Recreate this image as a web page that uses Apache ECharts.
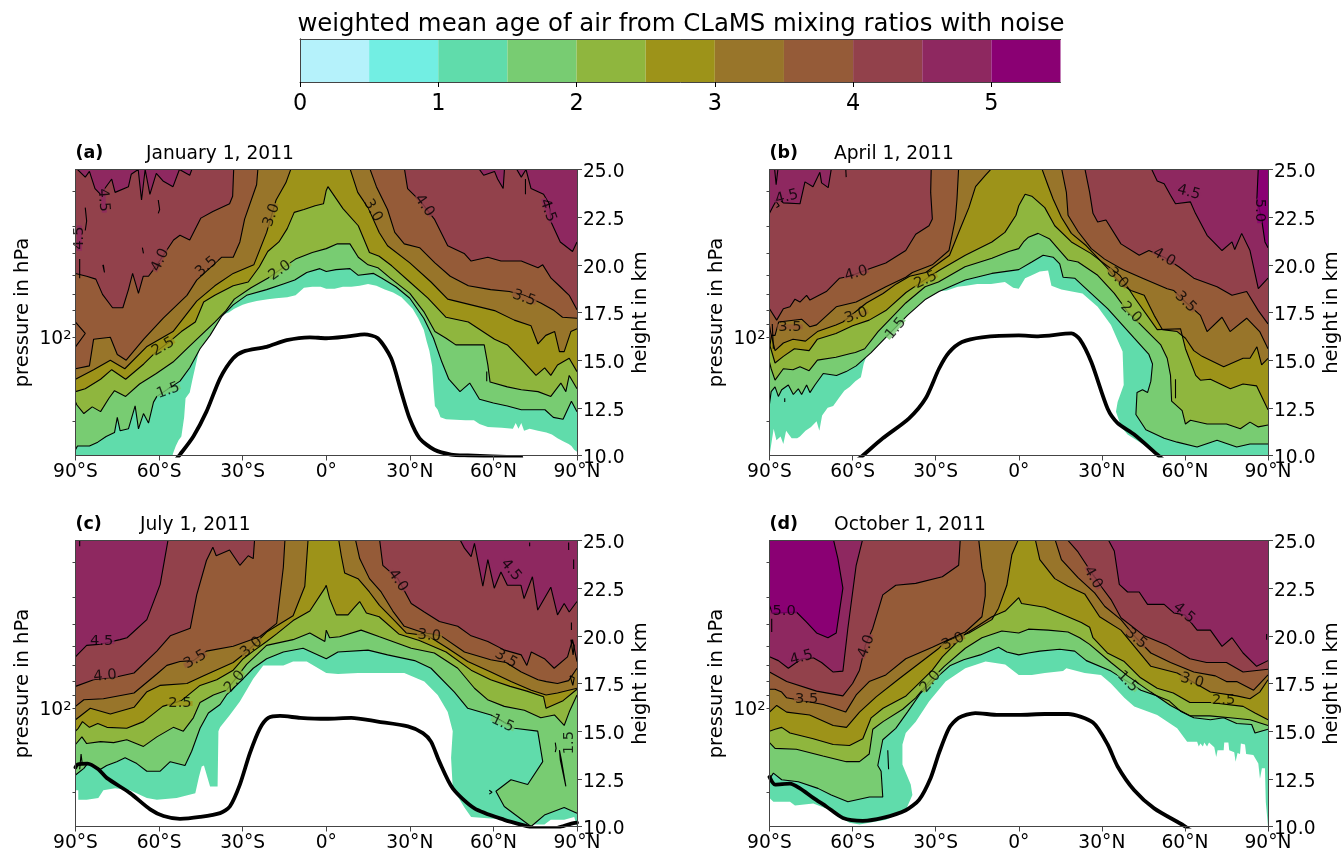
<!DOCTYPE html>
<html><head><meta charset="utf-8">
<script src="https://cdn.jsdelivr.net/npm/echarts@6/dist/echarts.min.js"></script>
<style>html,body{margin:0;padding:0;background:#fff}#c{width:1343px;height:858px}</style>
</head><body><div id="c"></div>
<script>
// colour bands (0-0.5 ... 5-5.5)
const bandColors=['#b5f2fb','#72eee3','#60dcab','#78cc72','#8fb63e','#9d9319','#98752a','#955b38','#92414b','#8e2860','#8a0073'];
const barTicks=[0,1,2,3,4,5];
const latTicks=[-90,-60,-30,0,30,60,90];
const pressureTicks=[30,40,50,60,70,80,90,100,200];
const mainTitle='weighted mean age of air from CLaMS mixing ratios with noise';
const panelTags=['(a)','(b)','(c)','(d)'];
const panelDates=['January 1, 2011','April 1, 2011','July 1, 2011','October 1, 2011'];
const levels=[1.5,2,2.5,3,3.5,4,4.5,5];

// Panel a: contours as flat lat,height pairs
const a10=[-90,9.5,-56,9.5,-55,10.1,-54,10.5,-53,10.8,-52,11,-51,12,-50.5,13,-49,13.3,-48,14,-46,15.3,-45,15.8,-43,16.3,-41,16.7,-39,17,-37,17.4,-35,17.5,-33,17.7,-30,17.9,-28,18,-25,18.1,-21,18.2,-18,18.25,-14,18.3,-11,18.4,-8,18.8,-5,18.85,-2,18.85,0,18.75,3,18.75,6,18.85,9,18.85,12,18.9,15,19,18,18.9,21,18.7,24,18.55,27,18.3,29,18,31,17.7,33,17.2,35,16.6,36,16,37,15.5,38,14.7,38.5,13.5,39,12.6,40,12.4,41,12,43,11.9,50,11.85,53,11.85,55,11.65,58,11.5,63,11.45,67,11.4,68,11.7,69,11.4,70,11.7,71,11.3,73,11.4,76,11.3,79,11.2,81,11.1,83,10.9,85,10.75,87,10.6,88,10.5,89,10.3,90,10.2];
const a15=[-90,10.3,-89.3,10.5,-85,10.5,-82,10.7,-79,11,-76,11.2,-75,12,-74,11.3,-71,11.4,-68.6,12.6,-67.4,11.4,-65.6,12.2,-63.8,11.7,-62,12.8,-60.8,13.1,-52.5,13.9,-49,14.6,-45.3,15.6,-41.7,16.3,-37.5,17.3,-33.4,17.9,-28.6,18.4,-21.4,18.7,-15.4,19,-11.3,19.2,-7,19.6,-2.3,19.8,0,19.65,3.5,19.75,8.5,19.8,11.5,19.45,17,19.55,20,19.3,25,18.85,30,18.25,35,17.2,38.5,16.15,41.5,14.9,44,14,48,13.35,51.5,13.8,55,12.95,60,12.75,65,12.6,70,12.4,75,12.4,78.5,12.4,81.5,12,85,11.9,88,12.85,90,12.3];
const a20=[-90,12.8,-89.5,12.65,-87,12.2,-84,12.55,-81,12.3,-78,13,-76,13.4,-72,13.1,-67,13.75,-61,14.3,-55,14.9,-50,15.6,-45,16.3,-40,17,-36,17.6,-33,18.2,-27,18.8,-21,19.3,-16,19.8,-11,20.3,-5,20.65,0,20.85,4,21.1,8.5,21.1,11.5,20.4,15,20,18.5,19.85,23,19.3,30,18.5,35,17.55,39,16.5,43,16.15,46.5,15.8,55.5,15.8,56.7,15.8,58,14.75,58.8,13.85,65,13.6,70,13.45,76,13.35,80.6,13.1,84.2,13.8,86,13.35,87.2,14.2,90,13.5];
const a25=[-90,13.35,-86.5,13.5,-81,14,-77,14.5,-72,14,-65.5,14.8,-61,15.45,-56,16,-52,16.5,-47,17,-44,18.05,-40,18.4,-33.4,18.9,-28,19.1,-24,19.9,-21,20.7,-17,21.2,-14,21.9,-11.5,22.75,-8,22.9,-4,23.1,-1,23.2,0,23.9,0.6,24.1,6,22.95,11.5,22.05,14.5,21,15.5,20.65,19,20.45,23.5,19.95,30,19.1,36.5,18.25,43,17.25,51,17,60.4,16.1,65,15.8,71,14.9,75.3,14.2,78.4,14.6,80.6,14.2,83,14.75,87.2,15.1,90,14.4];
const a30=[-90,14,-83.5,14.5,-77.5,15,-72.3,14.55,-64.5,15.7,-55,16.5,-46.5,18.1,-40,18.9,-33.4,19.55,-26,20,-21.4,21.7,-18,23.4,-14.5,24.3,-12.5,25.1,8.4,25.1,11.3,23.8,15,23,19,21.7,22,21,30,20.1,37.6,19.1,43.6,18.2,52,17.9,60.4,17.6,67.5,17.1,73.5,16.8,76,15.85,78.8,16.3,82,16.5,83.7,15.45,85.4,15.45,87.8,16.5,90,16.65];
const a35=[-90,14.55,-85,14.7,-83.5,16.1,-77.5,16.2,-75,15.3,-71.8,15,-65.5,16.1,-58.5,17.2,-50,18.4,-46.5,19.2,-37.5,20.4,-33.4,20.4,-31,21.2,-29.3,22.4,-25,24.2,-24.5,25.1,15.5,25.1,18,24.1,22,22.9,24.6,21.7,28,21.1,33.5,20.9,39,20.1,44.5,19.4,51,18.9,59,18.7,65.7,18.6,71,18.4,77,18,81.8,17.6,84.8,17.25,90,17.2];
const a40=[-90,19.55,-86,19.4,-82.7,19.25,-80.3,18.45,-76.7,17.75,-73,17.75,-71,18.7,-69.5,19.55,-67.4,18.5,-65.7,19.4,-63.8,19.4,-62,19.75,-59.6,20.25,-54.8,21.3,-52.5,21.55,-49,21.3,-45,22.45,-40.7,22.8,-34.7,23.2,-33.6,23.6,-33.2,25.1,28,25.1,29.2,24,34,23.3,38.8,22.4,43.6,21,49.5,20.6,52,20.2,58,20.4,62.7,20.2,70,20.2,76,19.85,77.7,20,80.7,19.3,84,18.85,87.2,18.4,90,17.65];
const a45=[-90,25.1,-89.3,25.05,-86.5,24.6,-85,24.9,-83,24,-81,23.7,-77,24.5,-75.8,23.8,-71,24.1,-70,24.75,-67.5,25,-66.3,23.4,-65,25,-63.3,23.7,-61,24.8,-58.6,24.4,-55,24.1,-52.7,25,-49,24.7,-48,25.1,54.5,25.1,56.5,24.7,60.4,24.9,61.5,24.5,63.5,24,64,25.1,68,25.1,70,24.6,71.7,25,72.3,25.1,73.5,24,78,23.7,80,23.2,80.7,22.25,84,21.2,88.4,20.7,90,21.2];
const a50=[];
const aTrop=[-55,9.6,-52.5,10.05,-47.7,11,-43,12.3,-38.1,14.05,-33.4,15.1,-29.8,15.45,-21.4,15.7,-14.2,16.05,-5.9,16.2,0,16.15,7.8,16.25,13.7,16.35,18.5,16.15,23.3,15.1,26.9,13.35,29.9,11.95,33.5,10.9,38.8,10.3,44.8,10.05,50.8,10,70,9.9];
const aLabels=[[-80,23.4,'4.5',-85],[-88.6,21.4,'4.5',90],[-59.6,20.25,'4.0',65],[-43,19.9,'3.5',40],[-19.6,22.6,'3.0',70],[-58.5,15.7,'2.5',30],[-16.6,19.7,'2.0',35],[-56.7,13.4,'1.5',20],[16.7,22.85,'3.0',-60],[35.2,23.1,'4.0',-55],[79.5,22.85,'4.5',-70],[71,18.25,'3.5',-20]];
const aExtras=[[-86.5,23,-86,22.3,-86.5,21.8],[-88.5,20.3,-88.5,19.3],[-80,20,-79.6,19.6,-80.2,20],[-90,17,-86.5,16.4,-90,15.7],[-60.3,23.4,-59.8,22.9,-60.3,22.7],[71.5,24.5,71.5,23.7],[57.6,14.4,57.6,13.9],[-66,20.9,-65.6,20.6]];

// Panel b
const b10=[-90,10,-88.5,11.4,-87.5,10.8,-86,11,-85,10.6,-84,11.3,-82,10.9,-80,10.9,-79,11,-77,11.3,-75,11.5,-73,11.8,-72,11.3,-71,12.1,-69,12.5,-67,12.6,-65,13,-63,13.4,-61,13.6,-59,13.9,-57,14.1,-56,14.8,-55,15.2,-53,15.7,-51,16,-49,16.4,-47,16.6,-45,17.2,-43,17.6,-41,17.9,-37,18.1,-34,18.3,-30,18.6,-26,18.65,-22,18.85,-19,18.9,-15,19,-10,19,-5,19.1,-2,18.8,0,18.75,2.3,19.3,4.7,19.45,7.6,19.65,10.6,19.7,11.8,18.9,15.4,18.7,23,18.5,28.5,17.8,33.3,16.85,37.5,15.45,37.9,13.7,35.7,12.8,35.1,12.3,37,11.5,39.3,11.1,45.3,10.55,50,10,50,9.5,90,9.5];
const b15=[-90,12.7,-89.4,13.35,-88,13.6,-86.8,13.1,-85.6,13.45,-83.2,13.7,-81.4,13.2,-79.6,13.5,-78.4,13.2,-76.6,13.7,-75.4,13.3,-73.6,13.7,-70.6,14.3,-65.8,14.2,-62.3,14.4,-58.7,14.7,-53.3,15.4,-48.6,16.1,-40.2,17.35,-33.6,18.2,-28.8,18.6,-19.3,19.2,-9.7,19.55,0,19.75,4.7,20.15,8.8,20.5,12.4,20.4,14.8,20.05,16,19.35,20.2,19.3,23.2,18.9,32.1,17.7,41.7,16.15,47,15.3,48.3,14.8,47.7,13.9,46.5,13.3,44.7,13.45,42.7,13.3,42.3,12.15,45.9,11.35,52.5,10.9,57.2,10.7,64.4,10.45,71.6,10.8,78.7,10.45,83.5,10.6,90,10.6];
const b20=[-90,14.9,-89.4,14.55,-88,13.95,-85,14.55,-81.5,14.5,-79,14.65,-75.7,14.45,-72.7,15,-66,15.15,-60.7,15.35,-59,15.4,-55.6,15.6,-50.8,16.5,-44.8,17.4,-40.8,18,-33.8,18.85,-29,19.1,-19.4,19.9,-9.7,20.35,-3.6,20.7,0,20.85,1.7,21.2,3.5,21.45,7,21.65,11.2,21.35,14.8,20.75,17.8,20.25,21.4,20.15,28.5,19.45,34.5,18.5,39.3,17.55,46.5,16.5,51.3,15.8,53.6,15.1,54.8,14.2,55.2,12.85,59,12.35,60.2,11.65,62,11.85,68,11.65,75,11.65,80,11.4,83.5,11.75,86.5,11.5,90,11.6];
const b25=[-90,15.8,-89.5,15.6,-88,14.85,-85,15.2,-81,15.6,-75.7,15.5,-72.7,16.1,-66,16.4,-60,16.8,-54,17.1,-48,17.6,-40.7,18.55,-33.6,19.25,-28.8,19.7,-19.3,20.5,-9.7,21.2,-5,21.7,-1,22.6,0,23.1,2.3,23.7,4.7,23.6,9.4,23,13,22.05,19,21.2,26,20.6,36.5,19.45,41.7,18.3,50,16.6,58.4,16.65,60.2,15.6,63.9,14.2,65.6,13.95,69.2,14,76.4,13.5,81,13.75,85.9,13.65,90,12.4];
const b30=[-90,16.8,-89.5,16.4,-88,15.5,-85,15.9,-81.5,16.1,-77,16,-72.7,16.5,-66,16.85,-63.5,17,-55,18,-49,18.5,-44.2,19,-39.4,19.4,-33.6,19.6,-25,20.5,-21.4,21.8,-18,23,-15.6,24.1,-12,24.7,-9.5,25.1,8.2,25.1,10.6,24.15,12.4,23.45,15.4,22.5,19,21.65,24.4,21,31.5,19.9,36.9,19,40.5,18.65,45.3,18.4,48.9,17.35,51.9,16.6,57.2,16.5,60.2,16.15,63.2,15.5,66.2,15.2,74,14.65,81,15.1,83.5,15.1,86,15.7,87.7,14.75,90,15.1];
const b35=[-90,15.6,-89.3,16.3,-88,16.3,-86.7,17,-78.4,17.15,-75.4,16.75,-73,16.85,-65.9,17.8,-58.7,18.05,-53.9,18.4,-48,18.85,-40.8,19.35,-38.4,19.6,-31.2,20,-25.2,20.75,-22.9,22.4,-22.3,23.45,-21.7,25.1,15.4,25.1,17.2,23.8,17.8,22.6,21.4,21.75,26.2,20.85,31,20.3,37.5,19.75,44.7,19.3,53.6,18.75,56,18.65,60.2,18.05,65.6,17.35,68,16.5,73.4,17.25,76.3,16.5,82.3,17.2,87,16.5,90,15.6];
const b40=[-90,17.7,-87.4,17.1,-85,17.7,-82.6,17.8,-80.8,18.2,-79,18.05,-76.6,18.4,-75.4,18.15,-69.5,18.6,-64.7,19.3,-61,19.4,-53.9,19.8,-48,20.1,-40.8,20.75,-37.2,21.6,-32.4,22.05,-31.2,22.4,-31.8,23.8,-31.6,25.1,23.8,25.1,25.6,23.8,26.8,22.7,28.5,22.25,31.5,22.35,36.9,21.1,43.5,20.5,47,20.75,52.5,20.4,57.8,19.9,63.2,19.3,71.6,18.85,77,18.4,82.3,18.6,86.5,17.6,90,16.9];
const b45=[-90,22.7,-88.6,23.1,-87,23.5,-85,23.25,-79,23.2,-77.2,24.35,-74.3,24.1,-71.8,24.85,-71.2,24.3,-68.8,24.05,-67.6,25.1,47.7,25.1,50,24.4,52.5,24.25,54.8,23.65,56.6,23.2,62,23.3,63.8,22.7,68,21.55,73.4,20.75,77,21.2,78,20.8,80.5,21.65,83.5,20.75,86.5,18.75,90,19.3];
const b50=[86.5,25.1,86,23.5,87.7,22.4,88.9,21.2,90,20.9];
const bTrop=[-58,9.8,-56.3,10,-49.1,10.9,-39.6,11.95,-33.6,13,-28.8,14.55,-25.2,15.4,-20.5,15.95,-13.3,16.2,0,16.3,7,16.25,19,16.4,22,16.1,26.2,14.9,32.1,12.45,35.7,11.7,41.7,11.1,50,10.05,52,9.8];
const bLabels=[[-83.8,23.55,'4.5',15],[-82.6,16.75,'3.5',0],[-58.7,19.55,'4.0',15],[-58.7,17.35,'3.0',20],[-33.6,19.2,'2.5',25],[-44.4,16.65,'1.5',50],[61.4,23.8,'4.5',-15],[87,22.85,'5.0',-90],[52.5,20.4,'4.0',-30],[60.2,18.05,'3.5',-45],[35.7,19.3,'3.0',-45],[40.5,17.5,'2.0',-45]];
const bExtras=[[-88.2,25.1,-87.6,24.2,-86.9,25.1],[-89,16.9,-88.6,15.6],[-62.5,25.1,-62.3,24.6],[56.6,14,56.6,13],[-84.5,13,-84.5,12.8],[-88,23.4,-86.5,23.1,-87.5,23]];

// Panel c
const c10=[-90,11.9,-89,11.9,-89,11.4,-86,11.4,-81.8,11.5,-80,11.9,-75.8,12,-70.4,11.9,-64.4,11.5,-60.8,11.4,-53.7,11.5,-47,11.75,-45.7,12.6,-44.7,13.15,-43.9,13.2,-43.2,13.15,-41.7,12.1,-39,12.1,-38.7,15,-38.1,15.2,-34.6,15.85,-31,16.55,-26.2,17.75,-22.6,18.45,-15.4,18.45,-11.9,18.65,-7,18.65,0,18.05,4.2,18,11.4,18.05,19.7,18.05,28,18.05,35.2,17.6,40,16.9,43.6,16,45.4,15,44.8,13.6,45.4,12,49.6,11,52,10.5,65,10.35,71,10,73.5,10.1,78.3,10.1,80.6,10.35,85.4,10.35,89,10.5,90,10];
const c15=[-90,12.7,-89.3,12.6,-87,13.05,-85.7,13.3,-81,13,-78.8,13.2,-75.2,13.4,-72.2,13.6,-68,13.3,-64.4,12.9,-59.6,12.9,-56,13.4,-50.7,13.2,-48.3,13.95,-45.3,15.15,-42.3,15.95,-38.1,16.4,-35.8,16.9,-29.8,17.75,-26.2,18.3,-21.4,18.8,-15.4,19.15,-8.3,19.35,0,18.8,4.2,19.15,15,19.25,22,19,31.7,18.7,37.6,18.3,46,17.05,50.8,16.2,59.1,15.85,67.5,15.15,75.9,15,77.7,13.4,72.3,12.2,66.3,12.45,60.9,11.85,63.9,11.05,73.5,10,78.3,10.6,85.4,11,90,10.7];
const c20=[-90,14.3,-87.7,14.7,-86,14.35,-81,14.45,-76.3,14.4,-71.6,14.55,-65.6,14.2,-60.8,14.7,-54.9,15.2,-51.3,15,-47.7,15.7,-45.3,16.5,-40.5,16.9,-35.8,17.15,-32.8,17.7,-28.6,18.5,-21.4,19.5,-11.9,19.8,-5.9,20.15,-0.5,19.7,0,20.3,1.2,19.9,4.8,19.95,12.5,20.3,19.1,19.95,30.5,19.35,38.8,19.1,47.2,18.3,53.2,17.25,57.9,16.65,63.9,16.3,71.1,16.1,77,15.7,81.9,15.85,85.4,15.3,87.2,16,90,16.9];
const c25=[-90,15,-89,15.15,-87.5,15.5,-85,15.2,-82,15.4,-78.7,15.2,-71.6,15.15,-65.6,15.5,-58.7,16.3,-52,16.6,-45.3,17.4,-39.3,17.7,-33.4,18.2,-29.8,18.8,-26.2,19.2,-21.4,19.7,-17.8,20.1,-11.9,20.8,-5.9,21.3,-0.5,22.5,0,22.65,1.2,21.95,3.6,21.1,7.8,21.1,10.2,21.5,12,21.8,14.4,21.2,19,21,26,20.1,33.4,19.75,43,19.15,52,18.2,59,17.7,66,17.35,72,17.1,78,16.8,78.9,16.2,85,16.6,90,17.2];
const c30=[-90,15.6,-84.7,16.2,-77.5,15.9,-69,16.25,-64.5,17.05,-59.7,17.4,-50,17.5,-44,17.9,-33.4,18.6,-28.6,19.15,-21.4,20.2,-11.9,21.05,-7.7,22.6,-6.5,25.1,4.4,25.1,5.4,24.2,6.6,23.3,11.4,23,15.5,22.3,19.1,21.6,24.5,20.8,28.7,20.15,36.5,20,43.6,19.35,50.8,18.65,59.1,18.1,66.3,17.6,73.6,17.15,78.9,16.9,83,17,90,17.25];
const c35=[-90,16.3,-87,16.65,-80,16.7,-69,17,-60.8,18,-57.2,18.45,-52.5,18.65,-47.7,18.7,-43,19.2,-33.4,19.45,-23.9,19.95,-17.8,20.65,-15.4,23.6,-14.8,25.1,10.4,25.1,12,24.05,15.5,23,19.7,22.3,23.9,21.3,28,20.5,35.2,20.15,41.2,20,49.6,19.15,59,18.75,64.5,18.6,70,18.1,76,17.7,79,17.6,83,17.5,87,17.65,90,18.3];
const c40=[-90,17.35,-83.5,17.7,-75,17.85,-69,18.05,-60.8,19.2,-56,20,-48.8,20.4,-46.5,22.15,-43,23.95,-40.7,24.65,-39.5,24.2,-34.7,24.5,-31,23.7,-28,24.2,-26.2,24.05,-25.7,25.1,19.1,25.1,20.3,23.7,25.7,23,30.5,21.7,35.2,21.25,40.6,20.75,47.2,20.5,52,20,58,19.7,64,19.25,70,19,72,18.45,73.6,19.15,78.3,18.8,81.8,18.3,86.6,18.9,88.4,19.8,90,18.65];
const c45=[-90,18.9,-89,19.05,-86,19.5,-81.7,19.55,-74,19.8,-71.5,19.9,-64.4,20.85,-59.6,22.7,-56.7,25.1,47.8,25.1,49.6,24.6,52,24.15,53.2,24.85,56.2,22.6,58,24,60.3,22.5,62.7,23.35,65,22.65,69.9,22.65,71,21.95,74,23.1,75.9,21.35,80.6,22.55,83,21.1,85.4,21.7,87.2,21.25,90,21.8];
const c50=[];
const cTrop=[-90,13.1,-89.3,13.25,-85.7,13.3,-81.8,13,-78.8,12.55,-70.4,11.75,-63.2,10.9,-58.4,10.55,-52.5,10.4,-45.3,10.5,-38.1,10.7,-34.6,11.05,-31,12.2,-27.4,13.85,-23.8,15.15,-20.8,15.7,-16.6,15.8,-9.4,15.7,0,15.65,9,15.7,18.5,15.5,29.3,15.25,34.7,14.9,37.6,14.45,40.6,13.4,45.4,12,53.2,10.95,63.9,10.35,72.3,10,75,9.9,82,9.9,84.5,10,88,10.15,90,10.2];
const cLabels=[[-80.6,19.7,'4.5',0],[-79.4,17.9,'4.0',5],[-47,18.75,'3.5',30],[-26.8,19.4,'3.0',40],[-52.5,16.45,'2.5',0],[-32.8,17.6,'2.0',50],[25.7,22.9,'4.0',-55],[66.3,23.45,'4.5',-50],[37,20,'3.0',-5],[64.5,18.8,'3.5',-30],[63.3,15.4,'1.5',-25],[87.2,14.4,'1.5',90]];
const cExtras=[[83.7,14,84.4,13.5,86,12.1,85.5,12.1,84,13.5,83.7,14],[58.5,11.9,59.5,11.8,58.5,11.7],[82.2,14.4,82.5,14.1,82.2,13.9],[87.8,19.8,88.6,19,89,19.5,87.8,19.8],[87.5,17.9,88.5,17.4,89,17.8,87.5,17.9],[88,20.7,88,20.3],[73,24.9,73,24.7],[87,24.9,87,24.5],[88.8,24,88.8,23.5],[-88.5,25,-88.5,24.7],[-88.5,13,-88,13.8,-87.6,13.3]];

// Panel d
const d10=[-90,11.5,-88.6,11.3,-82.6,11.3,-80.8,11.1,-74.2,11.2,-69.5,10.95,-64.7,10.5,-61.1,10.2,-57.5,10.1,-47.9,10.35,-40.8,10.85,-38.4,11.65,-39,12.2,-42,13.25,-42,14.3,-40.8,14.9,-37.2,15.5,-32.4,16.55,-26.4,17.6,-19.3,18.3,-12,18.65,-4.9,18.5,0,17.95,4.7,17.95,9.4,18.05,16,18.15,17.2,18.3,23.8,18.05,29.7,17.95,33.3,17.5,38.1,16.75,41.7,16.3,50,15.85,57.2,15.15,60.8,14.45,64.4,14.45,65,14.2,65.6,14.35,66.5,14.2,67,14.4,68,14.2,68.7,14.4,70.6,14.15,71.3,13.65,71.8,14,74,14,74.2,14.4,75.7,14.4,76,14,77.8,13.9,78.3,13.4,79,13.85,79.9,13.8,80.2,14.35,81.7,14.3,82.1,13.8,84.7,13.75,86.5,13.3,87.1,12.5,87.8,13.05,88.9,13.05,89.2,11.3,89.7,11.3,90,10];
const d15=[-90,12.5,-88.6,12.8,-85.6,12.45,-79.6,12.35,-72.5,12,-67.7,11.65,-61.7,11.3,-53.9,11.55,-49.1,11.55,-49.7,12.9,-50.9,13.2,-49.1,14.55,-44.4,15.15,-40.2,16,-35.4,17,-29.4,17.85,-24.7,18.45,-19.9,18.75,-13.9,19,-7.3,19.4,-4.3,19.15,0,19,3.5,19.1,7.6,19.2,14.8,19.3,20.2,19.2,24.4,18.7,33.3,18.15,39.3,17.6,44.1,17.15,50,16.85,54.2,16.6,58.4,16.05,63.2,15.7,69.2,15.6,74,15.7,78.7,15.4,84.1,15.35,85.3,14.9,90,15.1];
const d20=[-90,14.4,-88,14.1,-80.3,14.05,-70.7,13.7,-62.3,13.4,-57.5,13.4,-54,13.8,-52.7,15.1,-49,15.5,-41.9,16.15,-37.2,16.75,-32.3,17.6,-26.9,18.4,-19.3,19.35,-13.3,19.9,-6.1,20.25,0,20.15,3.5,20.35,10.6,20.3,17.8,20.2,22,19.9,25.6,19.55,33.3,18.6,39.3,17.9,47.7,17.05,54.8,16.35,62,15.8,69,15.8,76.3,15.7,83.5,15.6,90,15.3];
const d25=[-90,15,-88,15.1,-85.6,15.2,-82.6,14.9,-74.2,14.6,-67,14.3,-61.1,14.25,-56.3,14.6,-53.3,15.7,-49,16.2,-40.7,16.85,-31.2,18.2,-27.6,18.9,-19.3,20.1,-9.7,21,-4.9,21.3,0,22,1,21.7,9.4,21.5,15.4,21.15,22.6,20.7,25.6,20.45,26.8,19.9,32,19.1,38.1,18.65,44,17.8,50,17.25,55.8,17,61.8,16.5,69.2,16.5,81,16.3,85.3,15.95,90,15.6];
const d30=[-90,16,-87.4,16.35,-83.8,16,-75.5,15.85,-67,15.3,-62.2,15.2,-57.5,16,-51.5,16.8,-43.2,17.75,-36,18.55,-28.8,19.35,-26.4,19.7,-18,20.15,-9.7,20.85,-7.3,21.45,-4.3,22.65,-2.5,24.25,0,25.1,5.9,25.1,7.6,24,13,23,17.8,22.6,23.8,22.2,29.2,21,36.9,20.3,47.7,18.4,57.2,18.05,69.2,17.05,78.7,16.85,83.5,16.7,87,17.05,90,17.7];
const d35=[-90,17.2,-88,17.2,-85.6,17.05,-83.8,16.75,-70.6,16.4,-62.5,16,-58.7,16.9,-54,17.6,-48,17.95,-40.8,18.8,-31.2,19.4,-21.7,20.05,-19.3,20.2,-13.3,21,-12.1,22.1,-12.1,22.75,-13.3,23.55,-14.5,25.1,13,25.1,15.4,24,21.4,23.05,27.4,22.25,31,21.55,36.9,20.85,42.3,19.9,47.7,19.1,54.8,18.6,63.2,18.1,71,17.9,75,17.6,78.7,17.6,84.8,17.15,90,17.95];
const d40=[-90,18.1,-83.8,17.6,-73,17.1,-63.5,16.85,-60,17.5,-57.5,18.2,-55.4,19.5,-52.7,20.4,-49.1,22.15,-44.4,22.65,-37.2,22.75,-27.6,23.1,-21.7,23.7,-21.1,25.1,17.2,25.1,21.4,24.4,26.8,23.2,29.7,22.6,33.3,21.9,36.9,20.95,45.3,20,53.6,19.5,61.8,18.8,67.8,18.6,75,18.6,81,18.1,90,18.25];
const d45=[-90,18.9,-86.8,18.7,-83.2,18.3,-78.4,18.8,-74.2,18.85,-71.2,18.6,-67,18.1,-63.5,18.15,-61.7,20.4,-58.7,23.7,-56.3,25.1,32.1,25.1,34.5,24.45,36.3,22.7,39.3,22.3,43.5,22.3,46.5,21.65,52.5,21.65,56,21.2,60,21.1,64.4,20.3,69.2,20.3,73.4,19.45,77,19.9,81,19.1,85.9,18.4,90,18.7];
const d50=[-90,21.6,-89,21.2,-80.3,21.25,-76.8,20.75,-73,20.15,-68.9,19.9,-65.9,20.15,-63.5,22.5,-65.3,24.05,-67,25.1,-66,25.6,90,25.6];
const dTrop=[-90,12.6,-88,12.2,-82.6,12.25,-79,12,-74.2,11.5,-69.5,11.05,-63.5,10.45,-56.3,10.3,-49.1,10.45,-40.8,10.85,-36,11.4,-31.8,12.55,-28.8,13.85,-25.2,15.15,-21.7,15.7,-15.7,15.95,-7.3,15.85,0,15.85,9.4,15.9,17.8,15.9,26.8,15.45,32.1,14.3,35.7,13.15,41.7,11.9,48.9,10.95,59.6,10.05,62,9.8];
const dLabels=[[-84.7,21.3,'5.0',0],[-78.4,18.85,'4.5',15],[-76.6,16.7,'3.5',0],[-55,19.45,'4.0',70],[-23.7,19.7,'3.0',25],[-31.8,17.6,'2.0',50],[26.8,23.05,'4.0',-60],[59.6,21.2,'4.5',-40],[42.3,19.85,'3.5',-40],[62.6,17.65,'3.0',-15],[74,16.6,'2.5',0],[39.3,17.6,'1.5',-45]];
const dExtras=[[-47.3,14,-47,13,-47.6,13,-47.3,14],[-89.2,20.9,-89.2,20.2],[89.5,20.1,89.5,19.8]];

const panels=[
 {edge:a10,lines:[a15,a20,a25,a30,a35,a40,a45,a50],trop:aTrop,labels:aLabels,extras:aExtras},
 {edge:b10,lines:[b15,b20,b25,b30,b35,b40,b45,b50],trop:bTrop,labels:bLabels,extras:bExtras},
 {edge:c10,lines:[c15,c20,c25,c30,c35,c40,c45,c50],trop:cTrop,labels:cLabels,extras:cExtras},
 {edge:d10,lines:[d15,d20,d25,d30,d35,d40,d45,d50],trop:dTrop,labels:dLabels,extras:dExtras}
];
const pairs=f=>{const o=[];for(let i=0;i<f.length;i+=2)o.push([f[i],f[i+1]]);return o;};
const FONT='DejaVu Sans', SPINE='#444';
const rects=[[75.5,169.5,501.5,286],[769.5,169.5,501.5,286],[75.5,540.5,501.5,286],[769.5,540.5,501.5,286]];
const grid=[],xAxis=[],yAxis=[],series=[],title=[];

title.push({text:mainTitle,left:681,top:13,padding:0,textAlign:'center',textStyle:{fontFamily:FONT,fontSize:24.4,fontWeight:'normal',color:'#000'}});

// colour bar
grid.push({left:300,top:39,width:760.5,height:43});
xAxis.push({gridIndex:0,type:'value',min:0,max:5.5,position:'bottom',z:10,axisLine:{show:true,lineStyle:{color:SPINE}},splitLine:{show:false},
 axisTick:{show:true,length:5,customValues:barTicks,lineStyle:{color:'#000'}},axisLabel:{customValues:barTicks,fontFamily:FONT,fontSize:22.4,color:'#000',margin:11}});
xAxis.push({gridIndex:0,type:'value',min:0,max:5.5,position:'top',z:10,axisLine:{show:true,lineStyle:{color:SPINE}},axisTick:{show:false},axisLabel:{show:false},splitLine:{show:false}});
yAxis.push({gridIndex:0,type:'category',data:[''],position:'left',z:10,axisLine:{show:true,lineStyle:{color:SPINE}},axisTick:{show:false},axisLabel:{show:false}});
yAxis.push({gridIndex:0,type:'category',data:[''],position:'right',z:10,axisLine:{show:true,lineStyle:{color:SPINE}},axisTick:{show:false},axisLabel:{show:false}});
bandColors.forEach(c=>series.push({type:'bar',xAxisIndex:0,yAxisIndex:0,stack:'cb',data:[0.5],barWidth:'100%',silent:true,animation:false,itemStyle:{color:c}}));

panels.forEach((p,i)=>{
  const g=i+1, r=rects[i];
  grid.push({left:r[0],top:r[1],width:r[2],height:r[3]});
  const xi=xAxis.length, yi=yAxis.length;
  xAxis.push({gridIndex:g,type:'value',min:-90,max:90,interval:30,position:'bottom',z:10,splitLine:{show:false},
    axisLine:{show:true,onZero:false,lineStyle:{color:SPINE}},axisTick:{show:true,length:5,lineStyle:{color:SPINE}},
    axisLabel:{customValues:latTicks,fontFamily:FONT,fontSize:18.67,color:'#000',margin:7,hideOverlap:false,
      formatter:v=>v<0?(-v)+'°S':v>0?v+'°N':'0°'}});
  xAxis.push({gridIndex:g,type:'value',min:-90,max:90,position:'top',z:10,splitLine:{show:false},axisLine:{show:true,onZero:false,lineStyle:{color:SPINE}},axisTick:{show:false},axisLabel:{show:false}});
  yAxis.push({gridIndex:g,type:'value',min:10,max:25,interval:2.5,position:'right',z:10,splitLine:{show:false},
    axisLine:{show:true,onZero:false,lineStyle:{color:SPINE}},axisTick:{show:true,length:5,lineStyle:{color:SPINE}},
    axisLabel:{fontFamily:FONT,fontSize:18.67,color:'#000',margin:6,verticalAlign:'top',lineHeight:6,formatter:v=>v.toFixed(1)},
    name:'height in km',nameLocation:'middle',nameRotate:90,nameGap:54,nameTextStyle:{fontFamily:FONT,fontSize:19.5,color:'#000'}});
  yAxis.push({gridIndex:g,type:'log',logBase:10,min:25.06,max:264.6,inverse:true,position:'left',z:10,splitLine:{show:false},
    axisLine:{show:true,onZero:false,lineStyle:{color:SPINE}},axisTick:{show:true,length:3,customValues:pressureTicks,lineStyle:{color:SPINE}},
    axisLabel:{customValues:[100],margin:4,padding:[3,0,0,0],color:'#000',fontFamily:FONT,formatter:()=>'{b|10}{s|2}',
      rich:{b:{fontFamily:FONT,fontSize:18.67,color:'#000'},s:{fontFamily:FONT,fontSize:13,color:'#000',verticalAlign:'top',padding:[0,0,6,0]}}},
    name:'pressure in hPa',nameLocation:'middle',nameRotate:90,nameGap:43,nameTextStyle:{fontFamily:FONT,fontSize:19.5,color:'#000'}});
  const base={type:'line',xAxisIndex:xi,yAxisIndex:yi,showSymbol:false,symbol:'none',silent:true,animation:false,clip:true};
  // lowest edge of the coloured area
  series.push({...base,data:pairs(p.edge),lineStyle:{width:0,opacity:0},areaStyle:{color:bandColors[2],origin:'end',opacity:1}});
  // filled bands + contours
  p.lines.forEach((ln,k)=>{ if(!ln.length)return;
    series.push({...base,data:pairs(ln),lineStyle:{color:'#000',width:1.1},areaStyle:{color:bandColors[k+3],origin:'end',opacity:1}});
  });
  p.extras.forEach(ex=>series.push({...base,data:pairs(ex),lineStyle:{color:'#000',width:1.1}}));
  series.push({...base,data:pairs(p.trop),smooth:0.25,lineStyle:{color:'#000',width:3.8,cap:'round',join:'round'},z:4});
  series.push({type:'scatter',xAxisIndex:xi,yAxisIndex:yi,symbolSize:0,silent:true,animation:false,z:5,
    data:p.labels.map(l=>{const lv=parseFloat(l[2]);const col=bandColors[Math.round(lv*2)];
      return {value:[l[0],l[1]],label:{show:true,position:'inside',formatter:l[2],rotate:l[3],fontFamily:FONT,fontSize:14.7,color:'#000',backgroundColor:col,lineHeight:5,padding:[0,1]}};})});
  title.push({text:panelTags[i],left:r[0],top:r[1]-25,padding:0,textStyle:{fontFamily:FONT,fontSize:17.5,fontWeight:'bold',color:'#000'}});
  title.push({text:panelDates[i],left:r[0]+[70.5,64.5,64.5,64.5][i],top:r[1]-25,padding:0,textStyle:{fontFamily:FONT,fontSize:18.67,fontWeight:'normal',color:'#000'}});
});

const chart=echarts.init(document.getElementById('c'),null,{renderer:'canvas'});
chart.setOption({animation:false,backgroundColor:'#fff',title,grid,xAxis,yAxis,series});
</script></body></html>
